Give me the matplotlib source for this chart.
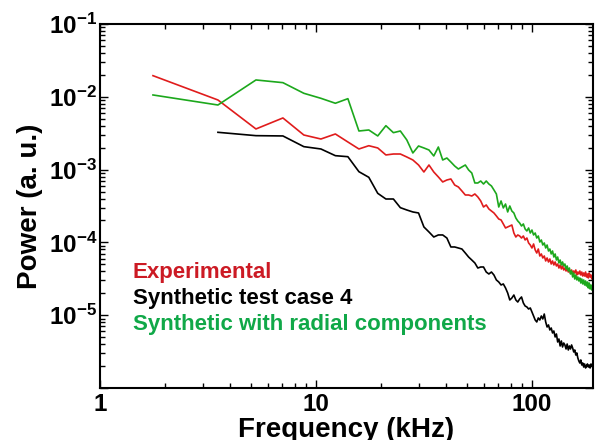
import numpy as np
import matplotlib
matplotlib.use('Agg')
import matplotlib.pyplot as plt
from matplotlib.ticker import LogLocator, NullFormatter, FuncFormatter, LogFormatterSciNotation

plt.rcParams['font.family'] = ['Liberation Sans', 'DejaVu Sans']
plt.rcParams['font.weight'] = 'bold'
plt.rcParams['mathtext.fontset'] = 'custom'
plt.rcParams['mathtext.rm'] = 'Liberation Sans:bold'
plt.rcParams['mathtext.bf'] = 'Liberation Sans:bold'
plt.rcParams['mathtext.default'] = 'bf'

# frequency bins (kHz), spectra stored as log10 of power
df = 1.76
nbins = 109

exp_log = [-1.710, -2.044, -2.442, -2.291, -2.525, -2.580, -2.511, -2.621, -2.717, -2.672,
           -2.703, -2.799, -2.786, -2.786, -2.827, -2.868, -2.937, -3.033, -2.937, -3.033,
           -3.101, -3.170, -3.143, -3.129, -3.212, -3.239, -3.294, -3.349, -3.349, -3.363,
           -3.335, -3.376, -3.431, -3.514, -3.486, -3.541, -3.569, -3.596, -3.637, -3.679,
           -3.692, -3.747, -3.802, -3.788, -3.775, -3.761, -3.871, -3.926, -3.898, -3.912,
           -3.940, -3.912, -3.967, -3.940, -4.008, -4.036, -4.077, -4.022, -4.104, -4.146,
           -4.091, -4.187, -4.159, -4.214, -4.187, -4.255, -4.214, -4.269, -4.228, -4.297,
           -4.255, -4.310, -4.269, -4.324, -4.297, -4.352, -4.310, -4.365, -4.324, -4.379,
           -4.352, -4.393, -4.352, -4.407, -4.379, -4.420, -4.379, -4.434, -4.393, -4.420,
           -4.379, -4.448, -4.407, -4.434, -4.393, -4.448, -4.407, -4.462, -4.420, -4.462,
           -4.407, -4.475, -4.434, -4.489, -4.420, -4.475, -4.448, -4.503, -4.462]

radial_log = [-1.975, -2.113, -1.769, -1.806, -1.952, -2.021, -2.089, -2.026, -2.470, -2.456,
              -2.538, -2.397, -2.493, -2.470, -2.593, -2.772, -2.676, -2.703, -2.731, -2.813,
              -2.690, -2.868, -2.841, -2.896, -2.951, -2.992, -2.964, -2.937, -3.005, -3.047,
              -3.184, -3.184, -3.157, -3.198, -3.157, -3.198, -3.225, -3.280, -3.335, -3.514,
              -3.431, -3.527, -3.473, -3.582, -3.500, -3.569, -3.596, -3.665, -3.706, -3.734,
              -3.775, -3.747, -3.816, -3.843, -3.802, -3.871, -3.830, -3.898, -3.871, -3.940,
              -3.912, -3.995, -3.967, -4.036, -4.008, -4.077, -4.036, -4.118, -4.091, -4.159,
              -4.118, -4.201, -4.159, -4.242, -4.201, -4.283, -4.242, -4.310, -4.269, -4.324,
              -4.297, -4.365, -4.324, -4.393, -4.352, -4.434, -4.393, -4.475, -4.420, -4.503,
              -4.448, -4.516, -4.475, -4.530, -4.489, -4.558, -4.503, -4.571, -4.516, -4.585,
              -4.530, -4.599, -4.544, -4.626, -4.558, -4.640, -4.585, -4.654, -4.613]

# test case 4 starts at the second bin
case4_log = [-2.488, -2.534, -2.538, -2.685, -2.717, -2.809, -2.823, -3.029, -3.106, -3.326,
             -3.404, -3.404, -3.523, -3.555, -3.582, -3.596, -3.788, -3.857, -3.926, -3.898,
             -3.898, -3.940, -4.063, -4.063, -4.077, -4.091, -4.146, -4.201, -4.242, -4.283,
             -4.352, -4.338, -4.338, -4.407, -4.434, -4.407, -4.448, -4.516, -4.544, -4.585,
             -4.571, -4.626, -4.695, -4.791, -4.764, -4.723, -4.791, -4.819, -4.777, -4.750,
             -4.832, -4.874, -4.887, -4.915, -4.901, -4.956, -5.011, -5.066, -5.093, -5.038,
             -5.066, -5.011, -5.052, -4.984, -5.093, -5.162, -5.134, -5.203, -5.176, -5.244,
             -5.217, -5.299, -5.258, -5.368, -5.327, -5.423, -5.354, -5.437, -5.382, -5.409,
             -5.464, -5.396, -5.478, -5.423, -5.464, -5.409, -5.451, -5.505, -5.478, -5.547,
             -5.519, -5.588, -5.629, -5.657, -5.615, -5.684, -5.657, -5.712, -5.670, -5.725,
             -5.698, -5.670, -5.712, -5.684, -5.725, -5.670, -5.698, -5.684]

labels = ['Experimental', 'Synthetic test case 4', 'Synthetic with radial components']
line_colors = ['#e01c1c', 'black', '#1ca81c']
text_colors = ['#cc1a24', 'black', '#10a848']


def main():
	freq = df * np.arange(1, nbins + 1)
	fig = plt.figure(figsize=(6.07, 4.40), dpi=100)
	ax = fig.add_axes([0.1647, 0.1182, 0.8123, 0.8273])

	ax.loglog(freq, 10 ** np.array(exp_log), color=line_colors[0], lw=1.2, label=labels[0])
	ax.loglog(freq[1:], 10 ** np.array(case4_log), color=line_colors[1], lw=1.2, label=labels[1])
	ax.loglog(freq, 10 ** np.array(radial_log), color=line_colors[2], lw=1.2, label=labels[2])

	ax.set_xlim(1, 192.5)
	ax.set_ylim(1e-6, 1e-1)

	ax.xaxis.set_major_formatter(FuncFormatter(lambda v, p: '%g' % v))
	ax.xaxis.set_minor_formatter(NullFormatter())
	ax.yaxis.set_major_locator(LogLocator(base=10, numticks=10))
	sci = LogFormatterSciNotation()
	# bottom decade is left unlabelled, as in the original figure
	ax.yaxis.set_major_formatter(FuncFormatter(lambda v, p: '' if v < 2e-6 else sci(v, p)))
	ax.yaxis.set_minor_locator(LogLocator(base=10, subs=np.arange(2, 10), numticks=20))
	ax.yaxis.set_minor_formatter(NullFormatter())

	ax.tick_params(which='both', direction='in', top=True, right=True, width=1.0, labelsize=17.5)
	ax.tick_params(which='major', length=6)
	ax.tick_params(which='minor', length=3.5)
	ax.tick_params(axis='x', pad=3.5)
	ax.tick_params(axis='y', pad=2)
	for s in ax.spines.values():
		s.set_linewidth(1.5)

	ax.set_xlabel('Frequency (kHz)', fontsize=20, fontweight='bold', labelpad=1)
	ax.set_ylabel('Power (a. u.)', fontsize=20, fontweight='bold', labelpad=4)

	leg = ax.legend(loc='upper left', bbox_to_anchor=(0.066, 0.345), frameon=False,
			handlelength=0, handletextpad=0, borderpad=0, borderaxespad=0,
			labelspacing=0.22, prop={'size': 16, 'weight': 'bold'}, labelcolor=text_colors)
	for h in leg.legend_handles:
		h.set_visible(False)

	fig.savefig('out.png', dpi=100)


if __name__ == '__main__':
	main()
